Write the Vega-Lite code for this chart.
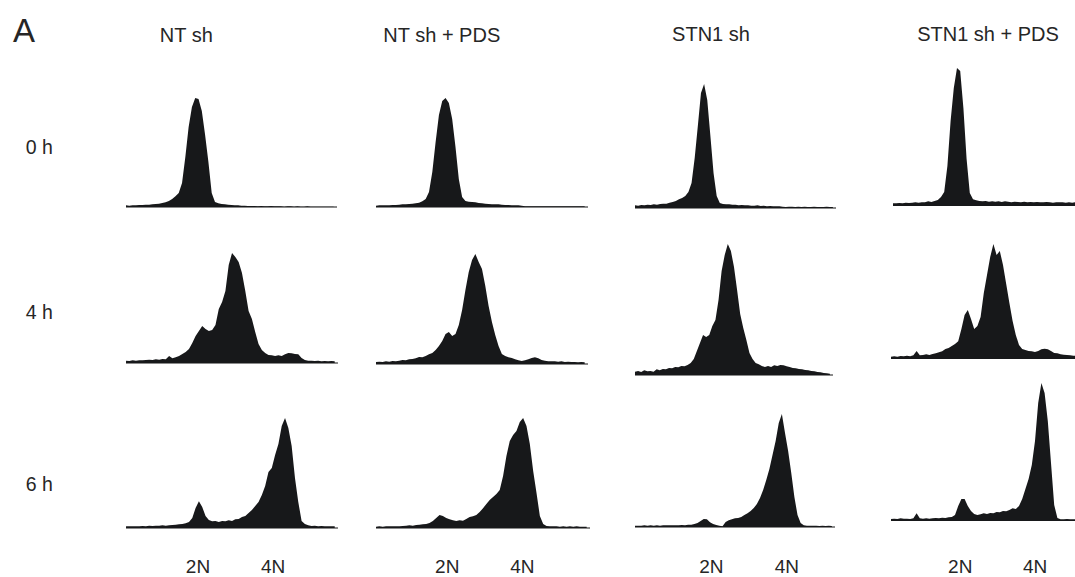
{
"$schema": "https://vega.github.io/schema/vega-lite/v6.json",
"padding": 0,
"background": "white",
"title": {"text": "A", "anchor": "start", "frame": "group", "font": "Liberation Sans", "fontSize": 33, "fontWeight": "normal", "color": "#262626", "baseline": "alphabetic", "offset": -74.5, "dx": 13},
"datasets": {
"r1c1": [{"c":0,"n":5},{"c":4,"n":4},{"c":8,"n":5},{"c":12,"n":5},{"c":16,"n":6},{"c":20,"n":6},{"c":24,"n":7},{"c":28,"n":7},{"c":32,"n":8},{"c":36,"n":9},{"c":40,"n":10},{"c":44,"n":12},{"c":48,"n":14},{"c":52,"n":18},{"c":56,"n":24},{"c":60,"n":32},{"c":64,"n":42},{"c":68,"n":72},{"c":72,"n":150},{"c":76,"n":240},{"c":80,"n":300},{"c":84,"n":327},{"c":88,"n":324},{"c":92,"n":288},{"c":96,"n":216},{"c":100,"n":135},{"c":104,"n":42},{"c":108,"n":15},{"c":112,"n":11},{"c":116,"n":9},{"c":120,"n":8},{"c":124,"n":7},{"c":128,"n":6},{"c":132,"n":5},{"c":136,"n":5},{"c":140,"n":4},{"c":144,"n":4},{"c":148,"n":3},{"c":152,"n":3},{"c":156,"n":3},{"c":160,"n":2},{"c":164,"n":3},{"c":168,"n":2},{"c":172,"n":2},{"c":176,"n":3},{"c":180,"n":2},{"c":184,"n":2},{"c":188,"n":2},{"c":192,"n":1},{"c":196,"n":2},{"c":200,"n":2},{"c":204,"n":1},{"c":208,"n":2},{"c":212,"n":1},{"c":216,"n":1},{"c":220,"n":2},{"c":224,"n":1},{"c":228,"n":1},{"c":232,"n":1},{"c":236,"n":1},{"c":240,"n":1},{"c":244,"n":1},{"c":248,"n":1},{"c":252,"n":1}],
"r1c2": [{"c":0,"n":4},{"c":4,"n":5},{"c":8,"n":5},{"c":12,"n":5},{"c":16,"n":5},{"c":20,"n":6},{"c":24,"n":6},{"c":28,"n":7},{"c":32,"n":8},{"c":36,"n":8},{"c":40,"n":9},{"c":44,"n":10},{"c":48,"n":11},{"c":52,"n":13},{"c":56,"n":17},{"c":60,"n":24},{"c":64,"n":45},{"c":68,"n":105},{"c":72,"n":195},{"c":76,"n":276},{"c":80,"n":318},{"c":84,"n":327},{"c":88,"n":312},{"c":92,"n":264},{"c":96,"n":180},{"c":100,"n":84},{"c":104,"n":30},{"c":108,"n":18},{"c":112,"n":16},{"c":116,"n":15},{"c":120,"n":14},{"c":124,"n":12},{"c":128,"n":11},{"c":132,"n":10},{"c":136,"n":9},{"c":140,"n":8},{"c":144,"n":8},{"c":148,"n":8},{"c":152,"n":7},{"c":156,"n":6},{"c":160,"n":6},{"c":164,"n":5},{"c":168,"n":5},{"c":172,"n":5},{"c":176,"n":4},{"c":180,"n":2},{"c":184,"n":2},{"c":188,"n":2},{"c":192,"n":2},{"c":196,"n":2},{"c":200,"n":2},{"c":204,"n":2},{"c":208,"n":2},{"c":212,"n":2},{"c":216,"n":2},{"c":220,"n":2},{"c":224,"n":2},{"c":228,"n":2},{"c":232,"n":2},{"c":236,"n":2},{"c":240,"n":2},{"c":244,"n":2},{"c":248,"n":2},{"c":252,"n":2}],
"r1c3": [{"c":0,"n":8},{"c":4,"n":7},{"c":8,"n":9},{"c":12,"n":8},{"c":16,"n":10},{"c":20,"n":9},{"c":24,"n":11},{"c":28,"n":10},{"c":32,"n":12},{"c":36,"n":13},{"c":40,"n":13},{"c":44,"n":16},{"c":48,"n":18},{"c":52,"n":21},{"c":56,"n":26},{"c":60,"n":30},{"c":64,"n":36},{"c":68,"n":48},{"c":72,"n":75},{"c":76,"n":150},{"c":80,"n":246},{"c":84,"n":345},{"c":88,"n":372},{"c":92,"n":324},{"c":96,"n":216},{"c":100,"n":105},{"c":104,"n":36},{"c":108,"n":15},{"c":112,"n":12},{"c":116,"n":11},{"c":120,"n":11},{"c":124,"n":10},{"c":128,"n":10},{"c":132,"n":8},{"c":136,"n":9},{"c":140,"n":8},{"c":144,"n":8},{"c":148,"n":7},{"c":152,"n":7},{"c":156,"n":8},{"c":160,"n":6},{"c":164,"n":7},{"c":168,"n":5},{"c":172,"n":6},{"c":176,"n":5},{"c":180,"n":5},{"c":184,"n":5},{"c":188,"n":4},{"c":192,"n":3},{"c":196,"n":4},{"c":200,"n":4},{"c":204,"n":3},{"c":208,"n":4},{"c":212,"n":3},{"c":216,"n":4},{"c":220,"n":3},{"c":224,"n":3},{"c":228,"n":4},{"c":232,"n":3},{"c":236,"n":3},{"c":240,"n":3},{"c":244,"n":4},{"c":248,"n":3},{"c":252,"n":3}],
"r1c4": [{"c":0,"n":8},{"c":4,"n":8},{"c":8,"n":9},{"c":12,"n":8},{"c":16,"n":10},{"c":20,"n":9},{"c":24,"n":10},{"c":28,"n":11},{"c":32,"n":10},{"c":36,"n":11},{"c":40,"n":11},{"c":44,"n":14},{"c":48,"n":12},{"c":52,"n":15},{"c":56,"n":18},{"c":60,"n":27},{"c":64,"n":42},{"c":68,"n":120},{"c":72,"n":255},{"c":76,"n":354},{"c":80,"n":414},{"c":84,"n":405},{"c":88,"n":294},{"c":92,"n":141},{"c":96,"n":39},{"c":100,"n":20},{"c":104,"n":17},{"c":108,"n":15},{"c":112,"n":14},{"c":116,"n":15},{"c":120,"n":13},{"c":124,"n":14},{"c":128,"n":13},{"c":132,"n":14},{"c":136,"n":12},{"c":140,"n":14},{"c":144,"n":13},{"c":148,"n":11},{"c":152,"n":13},{"c":156,"n":12},{"c":160,"n":11},{"c":164,"n":13},{"c":168,"n":11},{"c":172,"n":12},{"c":176,"n":11},{"c":180,"n":12},{"c":184,"n":11},{"c":188,"n":11},{"c":192,"n":12},{"c":196,"n":11},{"c":200,"n":10},{"c":204,"n":11},{"c":208,"n":11},{"c":212,"n":11},{"c":216,"n":10},{"c":220,"n":11},{"c":224,"n":10},{"c":228,"n":11}],
"r2c1": [{"c":0,"n":7},{"c":4,"n":6},{"c":8,"n":8},{"c":12,"n":7},{"c":16,"n":8},{"c":20,"n":8},{"c":24,"n":9},{"c":28,"n":10},{"c":32,"n":9},{"c":36,"n":11},{"c":40,"n":10},{"c":44,"n":12},{"c":48,"n":11},{"c":52,"n":21},{"c":56,"n":14},{"c":60,"n":17},{"c":64,"n":21},{"c":68,"n":27},{"c":72,"n":33},{"c":76,"n":42},{"c":80,"n":60},{"c":84,"n":81},{"c":88,"n":96},{"c":92,"n":111},{"c":96,"n":102},{"c":100,"n":96},{"c":104,"n":99},{"c":108,"n":114},{"c":112,"n":162},{"c":116,"n":183},{"c":120,"n":216},{"c":124,"n":294},{"c":128,"n":330},{"c":132,"n":318},{"c":136,"n":303},{"c":140,"n":270},{"c":144,"n":216},{"c":148,"n":156},{"c":152,"n":132},{"c":156,"n":93},{"c":160,"n":57},{"c":164,"n":39},{"c":168,"n":30},{"c":172,"n":24},{"c":176,"n":23},{"c":180,"n":21},{"c":184,"n":23},{"c":188,"n":21},{"c":192,"n":26},{"c":196,"n":30},{"c":200,"n":29},{"c":204,"n":27},{"c":208,"n":26},{"c":212,"n":15},{"c":216,"n":9},{"c":220,"n":7},{"c":224,"n":7},{"c":228,"n":6},{"c":232,"n":7},{"c":236,"n":5},{"c":240,"n":6},{"c":244,"n":5},{"c":248,"n":6},{"c":252,"n":5}],
"r2c2": [{"c":0,"n":6},{"c":4,"n":7},{"c":8,"n":6},{"c":12,"n":8},{"c":16,"n":7},{"c":20,"n":9},{"c":24,"n":8},{"c":28,"n":10},{"c":32,"n":12},{"c":36,"n":11},{"c":40,"n":14},{"c":44,"n":15},{"c":48,"n":17},{"c":52,"n":21},{"c":56,"n":20},{"c":60,"n":24},{"c":64,"n":29},{"c":68,"n":33},{"c":72,"n":42},{"c":76,"n":54},{"c":80,"n":69},{"c":84,"n":90},{"c":88,"n":96},{"c":92,"n":84},{"c":96,"n":90},{"c":100,"n":117},{"c":104,"n":162},{"c":108,"n":222},{"c":112,"n":276},{"c":116,"n":312},{"c":120,"n":330},{"c":124,"n":306},{"c":128,"n":285},{"c":132,"n":234},{"c":136,"n":174},{"c":140,"n":126},{"c":144,"n":87},{"c":148,"n":54},{"c":152,"n":30},{"c":156,"n":24},{"c":160,"n":20},{"c":164,"n":18},{"c":168,"n":14},{"c":172,"n":11},{"c":176,"n":9},{"c":180,"n":11},{"c":184,"n":14},{"c":188,"n":18},{"c":192,"n":20},{"c":196,"n":17},{"c":200,"n":12},{"c":204,"n":10},{"c":208,"n":8},{"c":212,"n":8},{"c":216,"n":8},{"c":220,"n":7},{"c":224,"n":8},{"c":228,"n":6},{"c":232,"n":7},{"c":236,"n":6},{"c":240,"n":6},{"c":244,"n":5},{"c":248,"n":6},{"c":252,"n":5}],
"r2c3": [{"c":0,"n":10},{"c":4,"n":12},{"c":8,"n":9},{"c":12,"n":14},{"c":16,"n":11},{"c":20,"n":12},{"c":24,"n":10},{"c":28,"n":17},{"c":32,"n":14},{"c":36,"n":18},{"c":40,"n":17},{"c":44,"n":21},{"c":48,"n":20},{"c":52,"n":24},{"c":56,"n":23},{"c":60,"n":27},{"c":64,"n":26},{"c":68,"n":30},{"c":72,"n":36},{"c":76,"n":48},{"c":80,"n":72},{"c":84,"n":96},{"c":88,"n":120},{"c":92,"n":114},{"c":96,"n":120},{"c":100,"n":147},{"c":104,"n":165},{"c":108,"n":225},{"c":112,"n":312},{"c":116,"n":360},{"c":120,"n":393},{"c":124,"n":372},{"c":128,"n":324},{"c":132,"n":255},{"c":136,"n":183},{"c":140,"n":141},{"c":144,"n":105},{"c":148,"n":66},{"c":152,"n":48},{"c":156,"n":36},{"c":160,"n":32},{"c":164,"n":27},{"c":168,"n":24},{"c":172,"n":27},{"c":176,"n":24},{"c":180,"n":29},{"c":184,"n":27},{"c":188,"n":30},{"c":192,"n":29},{"c":196,"n":26},{"c":200,"n":24},{"c":204,"n":21},{"c":208,"n":20},{"c":212,"n":18},{"c":216,"n":17},{"c":220,"n":15},{"c":224,"n":14},{"c":228,"n":12},{"c":232,"n":11},{"c":236,"n":9},{"c":240,"n":8},{"c":244,"n":6},{"c":248,"n":5},{"c":252,"n":4}],
"r2c4": [{"c":0,"n":7},{"c":4,"n":8},{"c":8,"n":7},{"c":12,"n":9},{"c":16,"n":8},{"c":20,"n":10},{"c":24,"n":8},{"c":28,"n":11},{"c":32,"n":24},{"c":36,"n":11},{"c":40,"n":12},{"c":44,"n":14},{"c":48,"n":12},{"c":52,"n":15},{"c":56,"n":17},{"c":60,"n":20},{"c":64,"n":23},{"c":68,"n":30},{"c":72,"n":33},{"c":76,"n":39},{"c":80,"n":45},{"c":84,"n":53},{"c":88,"n":90},{"c":92,"n":132},{"c":96,"n":147},{"c":100,"n":120},{"c":104,"n":90},{"c":108,"n":99},{"c":112,"n":126},{"c":116,"n":198},{"c":120,"n":252},{"c":124,"n":306},{"c":128,"n":345},{"c":132,"n":312},{"c":136,"n":324},{"c":140,"n":282},{"c":144,"n":225},{"c":148,"n":168},{"c":152,"n":114},{"c":156,"n":72},{"c":160,"n":42},{"c":164,"n":30},{"c":168,"n":27},{"c":172,"n":24},{"c":176,"n":23},{"c":180,"n":21},{"c":184,"n":24},{"c":188,"n":29},{"c":192,"n":31},{"c":196,"n":29},{"c":200,"n":24},{"c":204,"n":18},{"c":208,"n":17},{"c":212,"n":14},{"c":216,"n":13},{"c":220,"n":12},{"c":224,"n":11},{"c":228,"n":10},{"c":232,"n":9}],
"r3c1": [{"c":0,"n":5},{"c":4,"n":5},{"c":8,"n":5},{"c":12,"n":5},{"c":16,"n":5},{"c":20,"n":6},{"c":24,"n":5},{"c":28,"n":7},{"c":32,"n":6},{"c":36,"n":7},{"c":40,"n":7},{"c":44,"n":8},{"c":48,"n":7},{"c":52,"n":8},{"c":56,"n":9},{"c":60,"n":10},{"c":64,"n":11},{"c":68,"n":12},{"c":72,"n":14},{"c":76,"n":18},{"c":80,"n":30},{"c":84,"n":60},{"c":88,"n":80},{"c":92,"n":63},{"c":96,"n":36},{"c":100,"n":24},{"c":104,"n":20},{"c":108,"n":21},{"c":112,"n":18},{"c":116,"n":21},{"c":120,"n":20},{"c":124,"n":23},{"c":128,"n":21},{"c":132,"n":26},{"c":136,"n":27},{"c":140,"n":33},{"c":144,"n":36},{"c":148,"n":45},{"c":152,"n":54},{"c":156,"n":66},{"c":160,"n":78},{"c":164,"n":99},{"c":168,"n":126},{"c":172,"n":168},{"c":176,"n":180},{"c":180,"n":219},{"c":184,"n":252},{"c":188,"n":306},{"c":192,"n":330},{"c":196,"n":300},{"c":200,"n":246},{"c":204,"n":150},{"c":208,"n":78},{"c":212,"n":21},{"c":216,"n":12},{"c":220,"n":8},{"c":224,"n":6},{"c":228,"n":7},{"c":232,"n":5},{"c":236,"n":6},{"c":240,"n":5},{"c":244,"n":5},{"c":248,"n":5},{"c":252,"n":5}],
"r3c2": [{"c":0,"n":4},{"c":4,"n":5},{"c":8,"n":4},{"c":12,"n":5},{"c":16,"n":5},{"c":20,"n":5},{"c":24,"n":5},{"c":28,"n":5},{"c":32,"n":6},{"c":36,"n":7},{"c":40,"n":8},{"c":44,"n":7},{"c":48,"n":9},{"c":52,"n":10},{"c":56,"n":11},{"c":60,"n":12},{"c":64,"n":15},{"c":68,"n":21},{"c":72,"n":30},{"c":76,"n":39},{"c":80,"n":36},{"c":84,"n":30},{"c":88,"n":26},{"c":92,"n":23},{"c":96,"n":21},{"c":100,"n":23},{"c":104,"n":22},{"c":108,"n":27},{"c":112,"n":33},{"c":116,"n":35},{"c":120,"n":39},{"c":124,"n":48},{"c":128,"n":59},{"c":132,"n":72},{"c":136,"n":84},{"c":140,"n":93},{"c":144,"n":102},{"c":148,"n":114},{"c":152,"n":156},{"c":156,"n":216},{"c":160,"n":261},{"c":164,"n":279},{"c":168,"n":291},{"c":172,"n":318},{"c":176,"n":330},{"c":180,"n":306},{"c":184,"n":252},{"c":188,"n":171},{"c":192,"n":105},{"c":196,"n":36},{"c":200,"n":12},{"c":204,"n":6},{"c":208,"n":5},{"c":212,"n":5},{"c":216,"n":5},{"c":220,"n":4},{"c":224,"n":5},{"c":228,"n":4},{"c":232,"n":5},{"c":236,"n":4},{"c":240,"n":5},{"c":244,"n":4},{"c":248,"n":4},{"c":252,"n":4}],
"r3c3": [{"c":0,"n":4},{"c":4,"n":4},{"c":8,"n":4},{"c":12,"n":5},{"c":16,"n":4},{"c":20,"n":5},{"c":24,"n":4},{"c":28,"n":5},{"c":32,"n":4},{"c":36,"n":5},{"c":40,"n":5},{"c":44,"n":5},{"c":48,"n":5},{"c":52,"n":5},{"c":56,"n":5},{"c":60,"n":6},{"c":64,"n":5},{"c":68,"n":7},{"c":72,"n":7},{"c":76,"n":9},{"c":80,"n":12},{"c":84,"n":18},{"c":88,"n":24},{"c":92,"n":23},{"c":96,"n":14},{"c":100,"n":9},{"c":104,"n":6},{"c":108,"n":4},{"c":112,"n":2},{"c":116,"n":15},{"c":120,"n":20},{"c":124,"n":23},{"c":128,"n":26},{"c":132,"n":27},{"c":136,"n":30},{"c":140,"n":36},{"c":144,"n":41},{"c":148,"n":48},{"c":152,"n":57},{"c":156,"n":69},{"c":160,"n":87},{"c":164,"n":111},{"c":168,"n":141},{"c":172,"n":174},{"c":176,"n":216},{"c":180,"n":258},{"c":184,"n":312},{"c":188,"n":339},{"c":192,"n":282},{"c":196,"n":228},{"c":200,"n":162},{"c":204,"n":90},{"c":208,"n":36},{"c":212,"n":12},{"c":216,"n":5},{"c":220,"n":4},{"c":224,"n":4},{"c":228,"n":4},{"c":232,"n":4},{"c":236,"n":3},{"c":240,"n":4},{"c":244,"n":3},{"c":248,"n":4},{"c":252,"n":3}],
"r3c4": [{"c":0,"n":6},{"c":4,"n":7},{"c":8,"n":6},{"c":12,"n":8},{"c":16,"n":7},{"c":20,"n":7},{"c":24,"n":6},{"c":28,"n":8},{"c":32,"n":23},{"c":36,"n":8},{"c":40,"n":7},{"c":44,"n":8},{"c":48,"n":7},{"c":52,"n":8},{"c":56,"n":9},{"c":60,"n":8},{"c":64,"n":10},{"c":68,"n":9},{"c":72,"n":11},{"c":76,"n":12},{"c":80,"n":18},{"c":84,"n":45},{"c":88,"n":66},{"c":92,"n":66},{"c":96,"n":45},{"c":100,"n":30},{"c":104,"n":21},{"c":108,"n":18},{"c":112,"n":20},{"c":116,"n":23},{"c":120,"n":21},{"c":124,"n":24},{"c":128,"n":23},{"c":132,"n":27},{"c":136,"n":26},{"c":140,"n":30},{"c":144,"n":29},{"c":148,"n":33},{"c":152,"n":38},{"c":156,"n":36},{"c":160,"n":45},{"c":164,"n":66},{"c":168,"n":96},{"c":172,"n":126},{"c":176,"n":168},{"c":180,"n":240},{"c":184,"n":354},{"c":188,"n":414},{"c":192,"n":384},{"c":196,"n":300},{"c":200,"n":174},{"c":204,"n":48},{"c":208,"n":9},{"c":212,"n":5},{"c":216,"n":5},{"c":220,"n":6},{"c":224,"n":5},{"c":228,"n":5},{"c":232,"n":5}]
},
"columns": 4,
"spacing": 0,
"align": "each",
"bounds": "flush",
"concat": [
{"width": 356, "height": 207, "data": {"name": "r1c1"}, "layer": [
 {"mark": {"type": "rule", "color": "#8a8a8a", "strokeWidth": 1.5}, "encoding": {"x": {"datum": 0, "type": "quantitative", "scale": {"domain": [-152.9, 279.1], "nice": false, "zero": false}, "axis": {"orient": "top", "title": "NT sh", "titleX": 185.8, "titleY": 41.5}}, "x2": {"datum": 255}, "y": {"datum": 0, "type": "quantitative", "scale": {"domain": [0, 621], "nice": false}, "axis": {"title": "0 h", "titleAngle": 0, "titleX": 38.8, "titleY": 153.5, "titleFontSize": 19.5}}}},
 {"mark": {"type": "area", "color": "#17181a", "interpolate": "linear"}, "encoding": {"x": {"field": "c", "type": "quantitative", "scale": {"domain": [-152.9, 279.1], "nice": false, "zero": false}, "axis": {"orient": "top", "title": "NT sh", "titleX": 185.8, "titleY": 41.5}}, "y": {"field": "n", "type": "quantitative", "scale": {"domain": [0, 621], "nice": false}, "axis": {"title": "0 h", "titleAngle": 0, "titleX": 38.8, "titleY": 153.5, "titleFontSize": 19.5}}}}
]},
{"width": 255, "height": 207, "data": {"name": "r1c2"}, "layer": [
 {"mark": {"type": "rule", "color": "#8a8a8a", "strokeWidth": 1.5}, "encoding": {"x": {"datum": 0, "type": "quantitative", "scale": {"domain": [-24.15, 283.8], "nice": false, "zero": false}, "axis": {"orient": "top", "title": "NT sh + PDS", "titleX": 85.3, "titleY": 41.5}}, "x2": {"datum": 255}, "y": {"datum": 0, "type": "quantitative", "scale": {"domain": [0, 621], "nice": false}, "axis": null}}},
 {"mark": {"type": "area", "color": "#17181a", "interpolate": "linear"}, "encoding": {"x": {"field": "c", "type": "quantitative", "scale": {"domain": [-24.15, 283.8], "nice": false, "zero": false}, "axis": {"orient": "top", "title": "NT sh + PDS", "titleX": 85.3, "titleY": 41.5}}, "y": {"field": "n", "type": "quantitative", "scale": {"domain": [0, 621], "nice": false}, "axis": null}}}
]},
{"width": 253, "height": 208, "data": {"name": "r1c3"}, "layer": [
 {"mark": {"type": "rule", "color": "#8a8a8a", "strokeWidth": 1.5}, "encoding": {"x": {"datum": 0, "type": "quantitative", "scale": {"domain": [-30.57, 291.6], "nice": false, "zero": false}, "axis": {"orient": "top", "title": "STN1 sh", "titleX": 99.5, "titleY": 40.7}}, "x2": {"datum": 255}, "y": {"datum": 0, "type": "quantitative", "scale": {"domain": [0, 624], "nice": false}, "axis": null}}},
 {"mark": {"type": "area", "color": "#17181a", "interpolate": "linear"}, "encoding": {"x": {"field": "c", "type": "quantitative", "scale": {"domain": [-30.57, 291.6], "nice": false, "zero": false}, "axis": {"orient": "top", "title": "STN1 sh", "titleX": 99.5, "titleY": 40.7}}, "y": {"field": "n", "type": "quantitative", "scale": {"domain": [0, 624], "nice": false}, "axis": null}}}
]},
{"width": 211, "height": 206, "data": {"name": "r1c4"}, "layer": [
 {"mark": {"type": "rule", "color": "#8a8a8a", "strokeWidth": 1.5, "clip": true}, "encoding": {"x": {"datum": 0, "type": "quantitative", "scale": {"domain": [-36.25, 227.5], "nice": false, "zero": false}, "axis": {"orient": "top", "title": "STN1 sh + PDS", "titleX": 123.5, "titleY": 40.7}}, "x2": {"datum": 255}, "y": {"datum": 0, "type": "quantitative", "scale": {"domain": [0, 618], "nice": false}, "axis": null}}},
 {"mark": {"type": "area", "color": "#17181a", "interpolate": "linear", "clip": true}, "encoding": {"x": {"field": "c", "type": "quantitative", "scale": {"domain": [-36.25, 227.5], "nice": false, "zero": false}, "axis": {"orient": "top", "title": "STN1 sh + PDS", "titleX": 123.5, "titleY": 40.7}}, "y": {"field": "n", "type": "quantitative", "scale": {"domain": [0, 618], "nice": false}, "axis": null}}}
]},
{"width": 356, "height": 155, "data": {"name": "r2c1"}, "layer": [
 {"mark": {"type": "rule", "color": "#8a8a8a", "strokeWidth": 1.5}, "encoding": {"x": {"datum": 0, "type": "quantitative", "scale": {"domain": [-152.2, 277.7], "nice": false, "zero": false}, "axis": null}, "x2": {"datum": 255}, "y": {"datum": 0, "type": "quantitative", "scale": {"domain": [0, 465], "nice": false}, "axis": {"title": "4 h", "titleAngle": 0, "titleX": 38.8, "titleY": 110.3, "titleFontSize": 19.5}}}},
 {"mark": {"type": "area", "color": "#17181a", "interpolate": "linear"}, "encoding": {"x": {"field": "c", "type": "quantitative", "scale": {"domain": [-152.2, 277.7], "nice": false, "zero": false}, "axis": null}, "y": {"field": "n", "type": "quantitative", "scale": {"domain": [0, 465], "nice": false}, "axis": {"title": "4 h", "titleAngle": 0, "titleX": 38.8, "titleY": 110.3, "titleFontSize": 19.5}}}}
]},
{"width": 255, "height": 156, "data": {"name": "r2c2"}, "layer": [
 {"mark": {"type": "rule", "color": "#8a8a8a", "strokeWidth": 1.5}, "encoding": {"x": {"datum": 0, "type": "quantitative", "scale": {"domain": [-24.15, 283.8], "nice": false, "zero": false}, "axis": null}, "x2": {"datum": 255}, "y": {"datum": 0, "type": "quantitative", "scale": {"domain": [0, 468], "nice": false}, "axis": null}}},
 {"mark": {"type": "area", "color": "#17181a", "interpolate": "linear"}, "encoding": {"x": {"field": "c", "type": "quantitative", "scale": {"domain": [-24.15, 283.8], "nice": false, "zero": false}, "axis": null}, "y": {"field": "n", "type": "quantitative", "scale": {"domain": [0, 468], "nice": false}, "axis": null}}}
]},
{"width": 253, "height": 167, "data": {"name": "r2c3"}, "layer": [
 {"mark": {"type": "rule", "color": "#8a8a8a", "strokeWidth": 1.5}, "encoding": {"x": {"datum": 0, "type": "quantitative", "scale": {"domain": [-31.03, 296.1], "nice": false, "zero": false}, "axis": null}, "x2": {"datum": 255}, "y": {"datum": 0, "type": "quantitative", "scale": {"domain": [0, 501], "nice": false}, "axis": null}}},
 {"mark": {"type": "area", "color": "#17181a", "interpolate": "linear"}, "encoding": {"x": {"field": "c", "type": "quantitative", "scale": {"domain": [-31.03, 296.1], "nice": false, "zero": false}, "axis": null}, "y": {"field": "n", "type": "quantitative", "scale": {"domain": [0, 501], "nice": false}, "axis": null}}}
]},
{"width": 211, "height": 151, "data": {"name": "r2c4"}, "layer": [
 {"mark": {"type": "rule", "color": "#8a8a8a", "strokeWidth": 1.5, "clip": true}, "encoding": {"x": {"datum": 0, "type": "quantitative", "scale": {"domain": [-33.75, 230], "nice": false, "zero": false}, "axis": null}, "x2": {"datum": 255}, "y": {"datum": 0, "type": "quantitative", "scale": {"domain": [0, 453], "nice": false}, "axis": null}}},
 {"mark": {"type": "area", "color": "#17181a", "interpolate": "linear", "clip": true}, "encoding": {"x": {"field": "c", "type": "quantitative", "scale": {"domain": [-33.75, 230], "nice": false, "zero": false}, "axis": null}, "y": {"field": "n", "type": "quantitative", "scale": {"domain": [0, 453], "nice": false}, "axis": null}}}
]},
{"width": 356, "height": 153, "data": {"name": "r3c1"}, "layer": [
 {"mark": {"type": "rule", "color": "#8a8a8a", "strokeWidth": 1.5}, "encoding": {"x": {"datum": 0, "type": "quantitative", "scale": {"domain": [-152.2, 277.7], "nice": false, "zero": false}, "axis": {"orient": "bottom", "title": null, "labels": true, "values": [86.3, 176.9], "labelExpr": "datum.value < 130 ? '2N' : '4N'", "labelPadding": 44.7}}, "x2": {"datum": 255}, "y": {"datum": 0, "type": "quantitative", "scale": {"domain": [0, 459], "nice": false}, "axis": {"title": "6 h", "titleAngle": 0, "titleX": 38.8, "titleY": 115, "titleFontSize": 19.5}}}},
 {"mark": {"type": "area", "color": "#17181a", "interpolate": "linear"}, "encoding": {"x": {"field": "c", "type": "quantitative", "scale": {"domain": [-152.2, 277.7], "nice": false, "zero": false}, "axis": {"orient": "bottom", "title": null, "labels": true, "values": [86.3, 176.9], "labelExpr": "datum.value < 130 ? '2N' : '4N'", "labelPadding": 44.7}}, "y": {"field": "n", "type": "quantitative", "scale": {"domain": [0, 459], "nice": false}, "axis": {"title": "6 h", "titleAngle": 0, "titleX": 38.8, "titleY": 115, "titleFontSize": 19.5}}}}
]},
{"width": 255, "height": 153, "data": {"name": "r3c2"}, "layer": [
 {"mark": {"type": "rule", "color": "#8a8a8a", "strokeWidth": 1.5}, "encoding": {"x": {"datum": 0, "type": "quantitative", "scale": {"domain": [-23.93, 281.1], "nice": false, "zero": false}, "axis": {"orient": "bottom", "title": null, "labels": true, "values": [84.6, 174.4], "labelExpr": "datum.value < 130 ? '2N' : '4N'", "labelPadding": 44.7}}, "x2": {"datum": 255}, "y": {"datum": 0, "type": "quantitative", "scale": {"domain": [0, 459], "nice": false}, "axis": null}}},
 {"mark": {"type": "area", "color": "#17181a", "interpolate": "linear"}, "encoding": {"x": {"field": "c", "type": "quantitative", "scale": {"domain": [-23.93, 281.1], "nice": false, "zero": false}, "axis": {"orient": "bottom", "title": null, "labels": true, "values": [84.6, 174.4], "labelExpr": "datum.value < 130 ? '2N' : '4N'", "labelPadding": 44.7}}, "y": {"field": "n", "type": "quantitative", "scale": {"domain": [0, 459], "nice": false}, "axis": null}}}
]},
{"width": 253, "height": 152, "data": {"name": "r3c3"}, "layer": [
 {"mark": {"type": "rule", "color": "#8a8a8a", "strokeWidth": 1.5}, "encoding": {"x": {"datum": 0, "type": "quantitative", "scale": {"domain": [-30.72, 293.1], "nice": false, "zero": false}, "axis": {"orient": "bottom", "title": null, "labels": true, "values": [97.0, 193.7], "labelExpr": "datum.value < 140 ? '2N' : '4N'", "labelPadding": 45.7}}, "x2": {"datum": 255}, "y": {"datum": 0, "type": "quantitative", "scale": {"domain": [0, 456], "nice": false}, "axis": null}}},
 {"mark": {"type": "area", "color": "#17181a", "interpolate": "linear"}, "encoding": {"x": {"field": "c", "type": "quantitative", "scale": {"domain": [-30.72, 293.1], "nice": false, "zero": false}, "axis": {"orient": "bottom", "title": null, "labels": true, "values": [97.0, 193.7], "labelExpr": "datum.value < 140 ? '2N' : '4N'", "labelPadding": 45.7}}, "y": {"field": "n", "type": "quantitative", "scale": {"domain": [0, 456], "nice": false}, "axis": null}}}
]},
{"width": 211, "height": 146, "data": {"name": "r3c4"}, "layer": [
 {"mark": {"type": "rule", "color": "#8a8a8a", "strokeWidth": 1.5, "clip": true}, "encoding": {"x": {"datum": 0, "type": "quantitative", "scale": {"domain": [-33.75, 230], "nice": false, "zero": false}, "axis": {"orient": "bottom", "title": null, "labels": true, "values": [85.9, 179.4], "labelExpr": "datum.value < 130 ? '2N' : '4N'", "labelPadding": 51.7}}, "x2": {"datum": 255}, "y": {"datum": 0, "type": "quantitative", "scale": {"domain": [0, 438], "nice": false}, "axis": null}}},
 {"mark": {"type": "area", "color": "#17181a", "interpolate": "linear", "clip": true}, "encoding": {"x": {"field": "c", "type": "quantitative", "scale": {"domain": [-33.75, 230], "nice": false, "zero": false}, "axis": {"orient": "bottom", "title": null, "labels": true, "values": [85.9, 179.4], "labelExpr": "datum.value < 130 ? '2N' : '4N'", "labelPadding": 51.7}}, "y": {"field": "n", "type": "quantitative", "scale": {"domain": [0, 438], "nice": false}, "axis": null}}}
]}
],
"config": {
 "view": {"stroke": null},
 "font": "Liberation Sans",
 "axis": {"grid": false, "domain": false, "ticks": false, "tickSize": 0, "labels": false, "titleFont": "Liberation Sans", "titleFontWeight": "normal", "titleColor": "#262626", "titleFontSize": 20, "titleAngle": 0, "titleAlign": "center", "titleBaseline": "alphabetic", "labelFont": "Liberation Sans", "labelFontSize": 19, "labelColor": "#262626", "labelBaseline": "alphabetic", "labelAlign": "center", "labelAngle": 0, "labelOverlap": false, "labelFlush": false}
}
}
